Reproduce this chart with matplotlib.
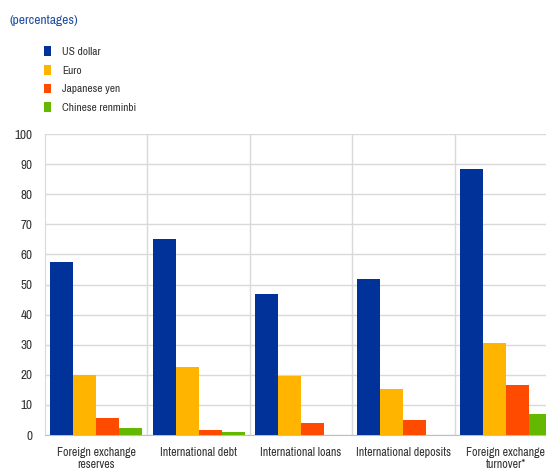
import matplotlib
matplotlib.use("Agg")
import matplotlib.pyplot as plt
from matplotlib import font_manager
import numpy as np

# look for a narrow sans face, the reference uses an Arial Narrow look
names = sorted({f.name for f in font_manager.fontManager.ttflist})
narrow = [n for n in names if 'Narrow' in n or 'Condensed' in n]
if narrow:
    plt.rcParams['font.family'] = [narrow[0], 'DejaVu Sans']
    scale = 1.0
else:
    plt.rcParams['font.family'] = ['Liberation Sans', 'DejaVu Sans']
    scale = 0.8

categories = ["Foreign exchange\nreserves", "International debt", "International loans",
              "International deposits", "Foreign exchange\nturnover*"]
series_names = ["US dollar", "Euro", "Japanese yen", "Chinese renminbi"]
us_dollar = [57.6, 65.1, 46.8, 51.8, 88.4]
euro = [20.0, 22.6, 19.6, 15.3, 30.5]
yen = [5.6, 1.7, 3.9, 5.0, 16.6]
renminbi = [2.3, 0.9, 0.0, 0.0, 6.9]
colors = ["#003299", "#FFB400", "#FF4B00", "#65B800"]

fig = plt.figure(figsize=(5.46, 4.70), dpi=100)
W, H = 546, 470
ax = fig.add_axes([45 / W, (H - 435) / H, (557 - 45) / W, (435 - 134) / H])

n = len(categories)
x = np.arange(n)
bw = 0.225
all_series = [us_dollar, euro, yen, renminbi]
for i, (vals, c, name) in enumerate(zip(all_series, colors, series_names)):
    ax.bar(x - 1.5 * bw + i * bw, vals, width=bw, color=c, label=name, zorder=3)

ax.set_xlim(-0.5, n - 0.5)
ax.set_ylim(0, 100)
ax.set_yticks(range(0, 101, 10))
ax.set_xticks(x)
ax.set_xticklabels(categories, fontsize=8.6 * scale, color="#333333", linespacing=1.1)
ax.tick_params(axis='y', length=0, labelsize=9.5 * scale, colors="#333333", pad=9)
ax.tick_params(axis='x', length=0, colors="#333333", pad=9)

ax.grid(axis='y', color="#d9d9d9", linewidth=1, zorder=0)
for b in np.arange(0.5, n - 0.5, 1):
    ax.axvline(b, color="#d9d9d9", linewidth=1, zorder=0)
for s in ['top', 'right']:
    ax.spines[s].set_visible(False)
ax.spines['left'].set_color("#d9d9d9")
ax.spines['bottom'].set_color("#bfbfbf")

fig.text(10 / W, 1 - 20 / H, "(percentages)", color="#1f4fa0", fontsize=9.7 * scale, va='center')
handles, labels = ax.get_legend_handles_labels()
fig.legend(handles, labels, loc='upper left', bbox_to_anchor=(44 / W, 1 - 46 / H),
           frameon=False, fontsize=8.2 * scale, handlelength=0.6, handleheight=0.95,
           handletextpad=1.0, labelspacing=0.7, borderaxespad=0, borderpad=0,
           labelcolor="#333333")

fig.savefig("out.png", dpi=100)
